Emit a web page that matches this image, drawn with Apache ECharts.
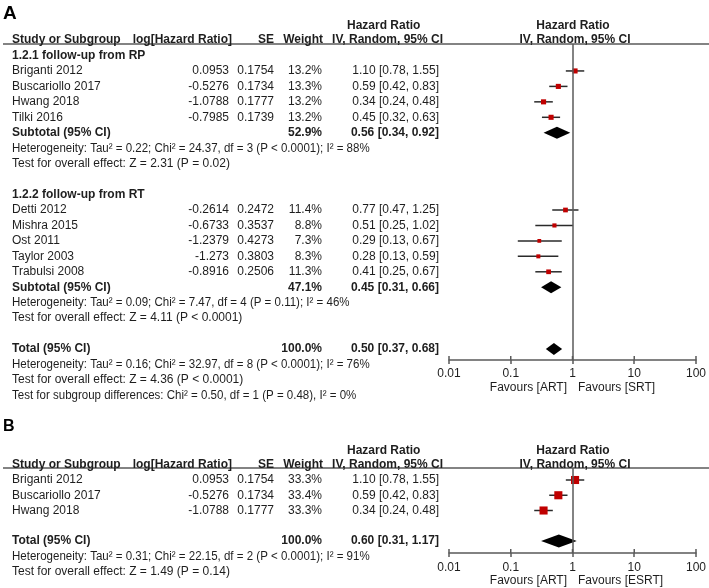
<!DOCTYPE html>
<html><head><meta charset="utf-8">
<script src="https://cdn.jsdelivr.net/npm/echarts@6/dist/echarts.min.js"></script>
<style>html,body{margin:0;padding:0;background:#fff}#c{width:709px;height:588px}</style>
</head><body><div id="c"></div>
<script>
// ================= DATA =================
// Panel A, subgroup 1.2.1
const rpTitle = '1.2.1 follow-up from RP';
const rpStudies = ['Briganti 2012', 'Buscariollo 2017', 'Hwang 2018', 'Tilki 2016'];
const rpLogHR = [0.0953, -0.5276, -1.0788, -0.7985];
const rpSE = [0.1754, 0.1734, 0.1777, 0.1739];
const rpWeight = [13.2, 13.3, 13.2, 13.2];
const rpHR = [1.10, 0.59, 0.34, 0.45];
const rpLo = [0.78, 0.42, 0.24, 0.32];
const rpHi = [1.55, 0.83, 0.48, 0.63];
const rpSubtotal = [52.9, 0.56, 0.34, 0.92]; // weight, HR, lo, hi
const rpStats = ['Heterogeneity: Tau² = 0.22; Chi² = 24.37, df = 3 (P < 0.0001); I² = 88%',
                 'Test for overall effect: Z = 2.31 (P = 0.02)'];
// Panel A, subgroup 1.2.2
const rtTitle = '1.2.2 follow-up from RT';
const rtStudies = ['Detti 2012', 'Mishra 2015', 'Ost 2011', 'Taylor 2003', 'Trabulsi 2008'];
const rtLogHR = [-0.2614, -0.6733, -1.2379, -1.273, -0.8916];
const rtSE = [0.2472, 0.3537, 0.4273, 0.3803, 0.2506];
const rtWeight = [11.4, 8.8, 7.3, 8.3, 11.3];
const rtHR = [0.77, 0.51, 0.29, 0.28, 0.41];
const rtLo = [0.47, 0.25, 0.13, 0.13, 0.25];
const rtHi = [1.25, 1.02, 0.67, 0.59, 0.67];
const rtSubtotal = [47.1, 0.45, 0.31, 0.66];
const rtStats = ['Heterogeneity: Tau² = 0.09; Chi² = 7.47, df = 4 (P = 0.11); I² = 46%',
                 'Test for overall effect: Z = 4.11 (P < 0.0001)'];
// Panel A total
const aTotal = [100.0, 0.50, 0.37, 0.68];
const aTotalStats = ['Heterogeneity: Tau² = 0.16; Chi² = 32.97, df = 8 (P < 0.0001); I² = 76%',
                     'Test for overall effect: Z = 4.36 (P < 0.0001)',
                     'Test for subgroup differences: Chi² = 0.50, df = 1 (P = 0.48), I² = 0%'];
const aFavours = ['Favours [ART]', 'Favours [SRT]'];
// Panel B
const bStudies = ['Briganti 2012', 'Buscariollo 2017', 'Hwang 2018'];
const bLogHR = [0.0953, -0.5276, -1.0788];
const bSE = [0.1754, 0.1734, 0.1777];
const bWeight = [33.3, 33.4, 33.3];
const bHR = [1.10, 0.59, 0.34];
const bLo = [0.78, 0.42, 0.24];
const bHi = [1.55, 0.83, 0.48];
const bTotal = [100.0, 0.60, 0.31, 1.17];
const bTotalStats = ['Heterogeneity: Tau² = 0.31; Chi² = 22.15, df = 2 (P < 0.0001); I² = 91%',
                     'Test for overall effect: Z = 1.49 (P = 0.14)'];
const bFavours = ['Favours [ART]', 'Favours [ESRT]'];
// Axis ticks
const axisTicks = [0.01, 0.1, 1, 10, 100];

// ================= LAYOUT =================
const FONT = '"Liberation Sans", Arial, Helvetica, sans-serif';
const TXT = '#1e1e1e';
const LINE = '#5a5a5a';
const COL = { name: 12, log: 229, se: 274, w: 322, hr: 439 };
const PANEL_A = { tableTop: 0, tableBottom: 410, row0Y: 55.5, rowH: 15.45, headY: 44, axisY: 360, favRow: 21.5, dHalf: 6, lblMargin: 8 };
const PANEL_B = { tableTop: 410, tableBottom: 588, row0Y: 480, rowH: 15.25, headY: 468, axisY: 553, favRow: 6.6, dHalf: 6.5, lblMargin: 9 };
const PLOT_L = 449, PLOT_R = 697;

const fmtW = w => w.toFixed(1) + '%';
const fmtHR = (e, l, h) => e.toFixed(2) + ' [' + l.toFixed(2) + ', ' + h.toFixed(2) + ']';

function buildPanel(groups, total, totalStats, favours, P) {
  const cells = [], studies = [], diamonds = [];
  const add = (row, x, text, align, bold, sx) => cells.push({ row, x, text, align: align || 'left', bold: !!bold, sx: sx || 1 });
  const addStat = (row, s) => add(row, COL.name, s, 'left', false, s.indexOf('²') >= 0 ? 0.96 : 1);
  add(-1.95, 347, 'Hazard Ratio', 'left', true);
  add(-1.95, 573, 'Hazard Ratio', 'center', true);
  add(-1, 12, 'Study or Subgroup', 'left', true);
  add(-1, 232, 'log[Hazard Ratio]', 'right', true);
  add(-1, 274, 'SE', 'right', true);
  add(-1, 323, 'Weight', 'right', true);
  add(-1, 443, 'IV, Random, 95% CI', 'right', true);
  add(-1, 575, 'IV, Random, 95% CI', 'center', true);
  let r = 0;
  groups.forEach(g => {
    if (g.title) { add(r, COL.name, g.title, 'left', true); r++; }
    g.names.forEach((n, i) => {
      add(r, COL.name, n);
      add(r, COL.log, String(g.log[i]), 'right');
      add(r, COL.se, g.se[i].toFixed(4), 'right');
      add(r, COL.w, fmtW(g.w[i]), 'right');
      add(r, COL.hr, fmtHR(g.hr[i], g.lo[i], g.hi[i]), 'right');
      studies.push([g.hr[i], r, g.lo[i], g.hi[i], g.w[i]]);
      r++;
    });
    if (g.sub) {
      add(r, COL.name, 'Subtotal (95% CI)', 'left', true);
      add(r, COL.w, fmtW(g.sub[0]), 'right', true);
      add(r, COL.hr, fmtHR(g.sub[1], g.sub[2], g.sub[3]), 'right', true);
      diamonds.push([g.sub[1], r, g.sub[2], g.sub[3]]);
      r++;
      g.stats.forEach(s => { addStat(r, s); r++; });
    }
    r++; // blank line
  });
  add(r, COL.name, 'Total (95% CI)', 'left', true);
  add(r, COL.w, fmtW(total[0]), 'right', true);
  add(r, COL.hr, fmtHR(total[1], total[2], total[3]), 'right', true);
  diamonds.push([total[1], r, total[2], total[3]]);
  r++;
  totalStats.forEach(s => { addStat(r, s); r++; });
  add(P.favRow, 567, favours[0], 'right');
  add(P.favRow, 578, favours[1], 'left');
  return { cells, studies, diamonds };
}

const A = buildPanel([
  { title: rpTitle, names: rpStudies, log: rpLogHR, se: rpSE, w: rpWeight, hr: rpHR, lo: rpLo, hi: rpHi, sub: rpSubtotal, stats: rpStats },
  { title: rtTitle, names: rtStudies, log: rtLogHR, se: rtSE, w: rtWeight, hr: rtHR, lo: rtLo, hi: rtHi, sub: rtSubtotal, stats: rtStats }
], aTotal, aTotalStats, aFavours, PANEL_A);
const B = buildPanel([
  { title: null, names: bStudies, log: bLogHR, se: bSE, w: bWeight, hr: bHR, lo: bLo, hi: bHi, sub: null }
], bTotal, bTotalStats, bFavours, PANEL_B);

const grids = [], xAxes = [], yAxes = [], series = [];

function addPanel(D, P) {
  const gi = grids.length;
  // table grid (pixel-unit x axis, row-unit y axis)
  grids.push({ left: 0, width: 709, top: P.tableTop, height: P.tableBottom - P.tableTop });
  const txi = xAxes.length;
  xAxes.push({ gridIndex: gi, type: 'value', min: 0, max: 709, show: false });
  const tyi = yAxes.length;
  yAxes.push({ gridIndex: gi, type: 'value', inverse: true, show: false,
    min: (P.tableTop - P.row0Y) / P.rowH, max: (P.tableBottom - P.row0Y) / P.rowH });
  // plot grid
  grids.push({ left: PLOT_L, width: PLOT_R - PLOT_L, top: P.headY, height: P.axisY - P.headY });
  const xi = xAxes.length;
  xAxes.push({ gridIndex: gi + 1, type: 'log', logBase: 10, min: 0.01, max: 100, position: 'bottom',
    axisLine: { show: true, onZero: false, lineStyle: { color: LINE, width: 1.5 } },
    axisTick: { show: true, length: 4, lineStyle: { color: LINE, width: 1.5 } },
    axisLabel: { show: true, margin: P.lblMargin, color: TXT, fontSize: 12, fontFamily: FONT,
      formatter: v => { const m = axisTicks.find(t => Math.abs(t - v) / t < 1e-6); return m !== undefined ? String(m) : ''; } },
    splitLine: { show: false }, minorTick: { show: false } });
  const yi = yAxes.length;
  const yMax = (P.axisY - P.row0Y) / P.rowH;
  yAxes.push({ gridIndex: gi + 1, type: 'value', inverse: true, show: false,
    min: (P.headY - P.row0Y) / P.rowH, max: yMax });

  // text cells
  series.push({
    type: 'custom', xAxisIndex: txi, yAxisIndex: tyi, silent: true, clip: false,
    data: D.cells.map(c => [c.x, c.row]),
    encode: { x: 0, y: 1 },
    renderItem: (params, api) => {
      const c = D.cells[params.dataIndex];
      const p = api.coord([c.x, c.row]);
      return { type: 'text', x: p[0], y: p[1], scaleX: c.sx,
        style: { text: c.text, align: c.align, verticalAlign: 'middle', fill: TXT,
          font: (c.bold ? 'bold ' : '') + '12px ' + FONT } };
    }
  });
  // upper half of the axis ticks (ticks cross the axis line)
  series.push({
    type: 'custom', xAxisIndex: xi, yAxisIndex: yi, silent: true, clip: false,
    data: axisTicks.map(t => [t, yMax]), encode: { x: 0, y: 1 },
    renderItem: (params, api) => {
      const p = api.coord([api.value(0), api.value(1)]);
      return { type: 'line', shape: { x1: p[0], y1: p[1], x2: p[0], y2: p[1] - 4 }, style: { stroke: LINE, lineWidth: 1.5 } };
    }
  });
  // studies: CI line + weighted square
  series.push({
    type: 'custom', xAxisIndex: xi, yAxisIndex: yi, silent: true, clip: false,
    data: D.studies, encode: { x: [0, 2, 3], y: 1 },
    renderItem: (params, api) => {
      const y = api.value(1);
      const pl = api.coord([api.value(2), y]), pe = api.coord([api.value(0), y]), ph = api.coord([api.value(3), y]);
      const s = Math.sqrt(api.value(4)) * 1.4;
      return { type: 'group', children: [
        { type: 'line', shape: { x1: pl[0], y1: pl[1], x2: ph[0], y2: ph[1] }, style: { stroke: '#2a2a2a', lineWidth: 1.5 } },
        { type: 'rect', shape: { x: pe[0] - s / 2, y: pe[1] - s / 2, width: s, height: s }, style: { fill: '#c00000' } }
      ] };
    },
    markLine: { silent: true, symbol: 'none', label: { show: false },
      lineStyle: { color: LINE, width: 1.5, type: 'solid' }, data: [{ xAxis: 1 }] }
  });
  // diamonds
  series.push({
    type: 'custom', xAxisIndex: xi, yAxisIndex: yi, silent: true, clip: false,
    data: D.diamonds, encode: { x: [0, 2, 3], y: 1 },
    renderItem: (params, api) => {
      const y = api.value(1);
      const pl = api.coord([api.value(2), y]), pe = api.coord([api.value(0), y]), ph = api.coord([api.value(3), y]);
      const h = P.dHalf;
      return { type: 'polygon', shape: { points: [[pl[0], pl[1]], [pe[0], pe[1] - h], [ph[0], ph[1]], [pe[0], pe[1] + h]] },
        style: { fill: '#000' } };
    }
  });
}
addPanel(A, PANEL_A);
addPanel(B, PANEL_B);

const chart = echarts.init(document.getElementById('c'), null, { renderer: 'canvas' });
chart.setOption({
  animation: false,
  backgroundColor: '#fff',
  grid: grids, xAxis: xAxes, yAxis: yAxes, series: series,
  graphic: [
    { type: 'text', left: 3, top: 4, style: { text: 'A', font: 'bold 19px ' + FONT, fill: '#000' } },
    { type: 'text', left: 3, top: 419, style: { text: 'B', font: 'bold 16px ' + FONT, fill: '#000' } },
    { type: 'line', shape: { x1: 3, y1: PANEL_A.headY, x2: 709, y2: PANEL_A.headY }, style: { stroke: LINE, lineWidth: 1.5 } },
    { type: 'line', shape: { x1: 3, y1: PANEL_B.headY, x2: 709, y2: PANEL_B.headY }, style: { stroke: LINE, lineWidth: 1.5 } }
  ]
});
</script></body></html>
